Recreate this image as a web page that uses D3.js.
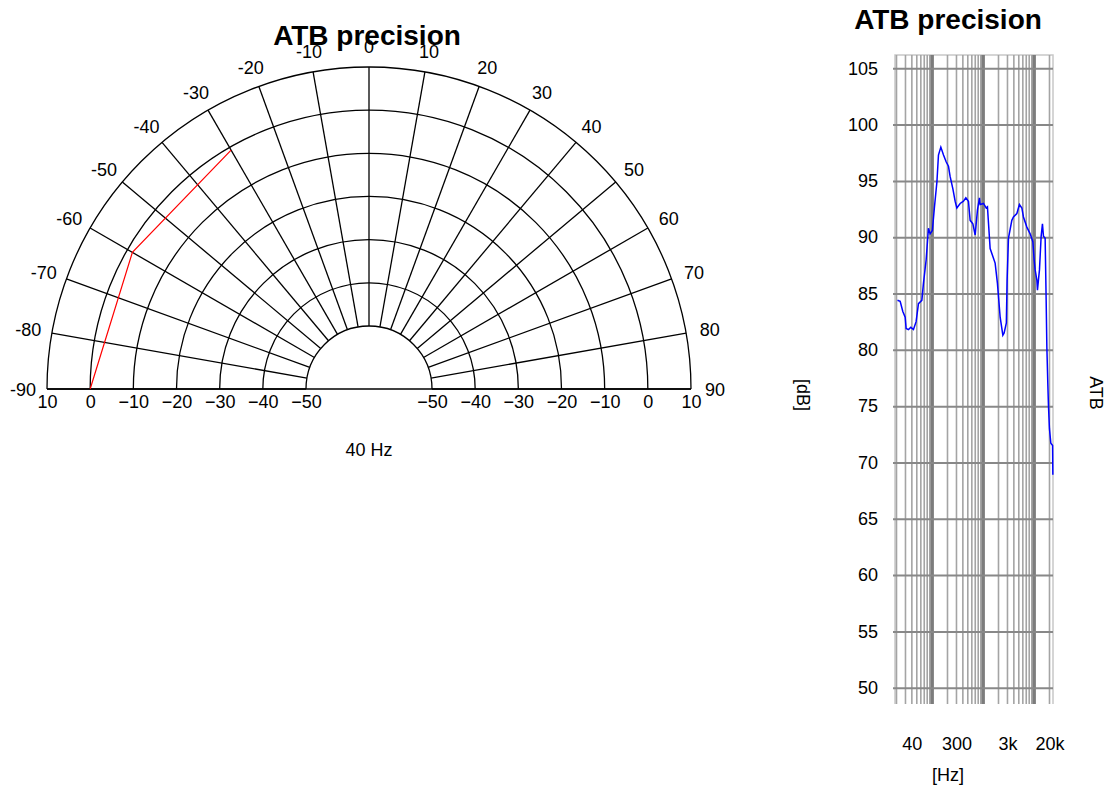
<!DOCTYPE html>
<html>
<head>
<meta charset="utf-8">
<script src="https://cdn.jsdelivr.net/npm/d3@7"></script>
<style>
  html, body { margin: 0; padding: 0; background: #fff; }
  svg { display: block; }
  text { font-family: "Liberation Sans", Arial, sans-serif; }
</style>
</head>
<body>
<svg id="chart" width="1112" height="788"></svg>
<script>
// ---------------- DATA ----------------
const chartTitle = "ATB precision";
const polarFreqLabel = "40 Hz";
// polar grid
const spokeAngles = [-90, -80, -70, -60, -50, -40, -30, -20, -10, 0, 10, 20, 30, 40, 50, 60, 70, 80, 90];
const ringValues = [10, 0, -10, -20, -30, -40, -50];
// polar measured series (angle in degrees, level in dB)
const polarAngles = [-90, -60, -30];
const polarLevels = [0, -1.3, -0.7];

// frequency response
const freqs = [20.9, 23.6, 26.6, 29.6, 30.9, 34.3, 38.2, 43, 48.5, 53.9, 62.8, 67.5, 76.3, 84.6, 91.4, 101, 111, 124, 133, 148, 167, 188, 209, 225, 255, 282, 305, 354, 411, 458, 515, 556, 628, 697, 773, 846, 873, 1014, 1145, 1214, 1371, 1718, 1906, 2155, 2434, 2580, 2850, 2950, 3135, 3652, 3929, 4579, 5150, 5741, 6172, 7194, 8350, 9435, 10000, 10466, 11300, 11610, 12710, 13720, 14550, 15220, 16430, 17200, 17740, 18560, 19070, 19950, 21250, 23000, 23270];
const levels = [84.4, 84.3, 83.4, 82.9, 81.9, 81.8, 82.0, 81.8, 82.5, 84.1, 84.4, 85.9, 88.0, 90.8, 90.3, 90.6, 92.7, 94.9, 97.3, 98.0, 97.3, 96.7, 96.3, 95.4, 94.3, 93.2, 92.6, 93.0, 93.2, 93.5, 93.2, 91.5, 91.2, 90.2, 92.4, 93.5, 92.9, 93.0, 92.6, 92.7, 89.0, 87.7, 85.9, 82.9, 81.3, 81.5, 82.4, 86.2, 89.9, 91.5, 91.8, 92.1, 92.9, 92.6, 91.8, 90.9, 90.3, 89.6, 88.0, 87.1, 86.2, 85.3, 87.1, 90.1, 91.2, 90.1, 89.9, 84.4, 80.3, 76.9, 75.1, 73.0, 71.7, 71.5, 68.9];
const yTicks = [50, 55, 60, 65, 70, 75, 80, 85, 90, 95, 100, 105];
const xTickValues = [40, 300, 3000, 20000];
const xTickLabels = ["40", "300", "3k", "20k"];
const gridFreqs = [20, 30, 40, 50, 60, 70, 80, 90, 100, 200, 300, 400, 500, 600, 700, 800, 900, 1000, 2000, 3000, 4000, 5000, 6000, 7000, 8000, 9000, 10000, 20000];
const decadeFreqs = [100, 1000, 10000];
const yAxisTitle = "[dB]";
const xAxisTitle = "[Hz]";
const seriesName = "ATB";

// ---------------- DRAW ----------------
const svg = d3.select("#chart");
const FONT = 18;

// ===== Polar chart =====
const cx = 369, cy = 389;
const rScale = d3.scaleLinear().domain([-50, 10]).range([63, 322]);
const rMin = rScale(-50), rMax = rScale(10);
const rad = d => d * Math.PI / 180;
const gP = svg.append("g");

// rings
ringValues.forEach(v => {
  const p = d3.path();
  p.arc(cx, cy, rScale(v), -Math.PI, 0, false);
  gP.append("path").attr("d", p.toString())
    .attr("fill", "none").attr("stroke", "#000").attr("stroke-width", 1.3);
});
// spokes
spokeAngles.forEach(a => {
  const s = Math.sin(rad(a)), c = Math.cos(rad(a));
  gP.append("line")
    .attr("x1", cx + rMin * s).attr("y1", cy - rMin * c)
    .attr("x2", cx + rMax * s).attr("y2", cy - rMax * c)
    .attr("stroke", "#000").attr("stroke-width", 1.3);
});
// baseline
gP.append("line").attr("x1", cx - rMax).attr("x2", cx + rMax)
  .attr("y1", cy).attr("y2", cy).attr("stroke", "#000").attr("stroke-width", 1.5);

// angle labels
spokeAngles.forEach(a => {
  const s = Math.sin(rad(a)), c = Math.cos(rad(a));
  gP.append("text")
    .attr("x", cx + rMax * s + s * 24)
    .attr("y", cy - rMax * c - c * 21 + 1)
    .attr("text-anchor", "middle").attr("dominant-baseline", "central")
    .attr("font-size", FONT).attr("fill", "#000")
    .text(a);
});

// bottom level axes (left and right)
const leftScale = d3.scaleLinear().domain([-50, 10]).range([cx - rMin, cx - rMax]);
const rightScale = d3.scaleLinear().domain([-50, 10]).range([cx + rMin, cx + rMax]);
[leftScale, rightScale].forEach(sc => {
  const ax = gP.append("g").attr("transform", `translate(0,${cy})`)
    .call(d3.axisBottom(sc).tickValues(ringValues).tickSize(0).tickPadding(6).tickFormat(d3.format("d")));
  ax.select(".domain").remove();
  ax.selectAll("text").attr("font-size", FONT).attr("font-family", "Liberation Sans, Arial, sans-serif").attr("fill", "#000");
});

// polar series
const polarData = polarAngles.map((a, i) => ({ a, v: polarLevels[i] }));
const radialLine = d3.lineRadial().angle(d => rad(d.a)).radius(d => rScale(d.v));
gP.append("path").attr("transform", `translate(${cx},${cy})`)
  .attr("d", radialLine(polarData))
  .attr("fill", "none").attr("stroke", "#ff0000").attr("stroke-width", 1.2);

// titles
gP.append("text").attr("x", 367).attr("y", 45).attr("text-anchor", "middle")
  .attr("font-size", 28).attr("font-weight", "bold").attr("fill", "#000").text(chartTitle);
gP.append("text").attr("x", cx).attr("y", 456).attr("text-anchor", "middle")
  .attr("font-size", FONT).attr("fill", "#000").text(polarFreqLabel);

// ===== Frequency response chart =====
const plotL = 895, plotR = 1053, plotT = 55, plotB = 704;
const x = d3.scaleLog().domain([20, 20000]).range([896.5, 1049.5]);
const y = d3.scaleLinear().domain([50, 105]).range([687.7, 68.3]);
const gF = svg.append("g");

// light frame
gF.append("path")
  .attr("d", `M${plotL},${plotB}V${plotT}H${plotR}V${plotB}`)
  .attr("fill", "none").attr("stroke", "#c8c8c8").attr("stroke-width", 1.5);

// vertical grid
gF.selectAll("line.vgrid").data(gridFreqs).enter().append("line")
  .attr("class", "vgrid")
  .attr("x1", d => x(d)).attr("x2", d => x(d))
  .attr("y1", plotT).attr("y2", plotB)
  .attr("stroke", d => decadeFreqs.includes(d) ? "#7c7c7c" : "#a4a4a4")
  .attr("stroke-width", d => decadeFreqs.includes(d) ? 3.5 : 1.6);

// horizontal grid + y labels via axis
const yAx = gF.append("g").attr("transform", `translate(893,0)`)
  .call(d3.axisLeft(y).tickValues(yTicks).tickSize(-(plotR - 893)).tickPadding(15));
yAx.select(".domain").remove();
yAx.selectAll(".tick line").attr("stroke", "#888").attr("stroke-width", 2);
yAx.selectAll("text").attr("font-size", FONT).attr("font-family", "Liberation Sans, Arial, sans-serif").attr("fill", "#000");

// x labels via axis
const xAx = gF.append("g").attr("transform", `translate(0,${plotB})`)
  .call(d3.axisBottom(x).tickValues(xTickValues).tickSize(0).tickPadding(33)
    .tickFormat((d, i) => xTickLabels[i]));
xAx.select(".domain").remove();
xAx.selectAll("text").attr("font-size", FONT).attr("font-family", "Liberation Sans, Arial, sans-serif").attr("fill", "#000");

// series
const fr = freqs.map((f, i) => ({ f, v: levels[i] }));
gF.append("path").attr("d", d3.line().x(d => x(d.f)).y(d => y(d.v))(fr))
  .attr("fill", "none").attr("stroke", "#0000ff").attr("stroke-width", 1.5);

// titles
gF.append("text").attr("x", 948).attr("y", 29).attr("text-anchor", "middle")
  .attr("font-size", 28).attr("font-weight", "bold").attr("fill", "#000").text(chartTitle);
gF.append("text").attr("x", 948).attr("y", 781).attr("text-anchor", "middle")
  .attr("font-size", FONT).attr("fill", "#000").text(xAxisTitle);
gF.append("text").attr("transform", "translate(803,395) rotate(90)")
  .attr("text-anchor", "middle").attr("dominant-baseline", "central")
  .attr("font-size", FONT).attr("fill", "#000").text(yAxisTitle);
gF.append("text").attr("transform", "translate(1096,393) rotate(90)")
  .attr("text-anchor", "middle").attr("dominant-baseline", "central")
  .attr("font-size", FONT).attr("fill", "#000").text(seriesName);
</script>
</body>
</html>
